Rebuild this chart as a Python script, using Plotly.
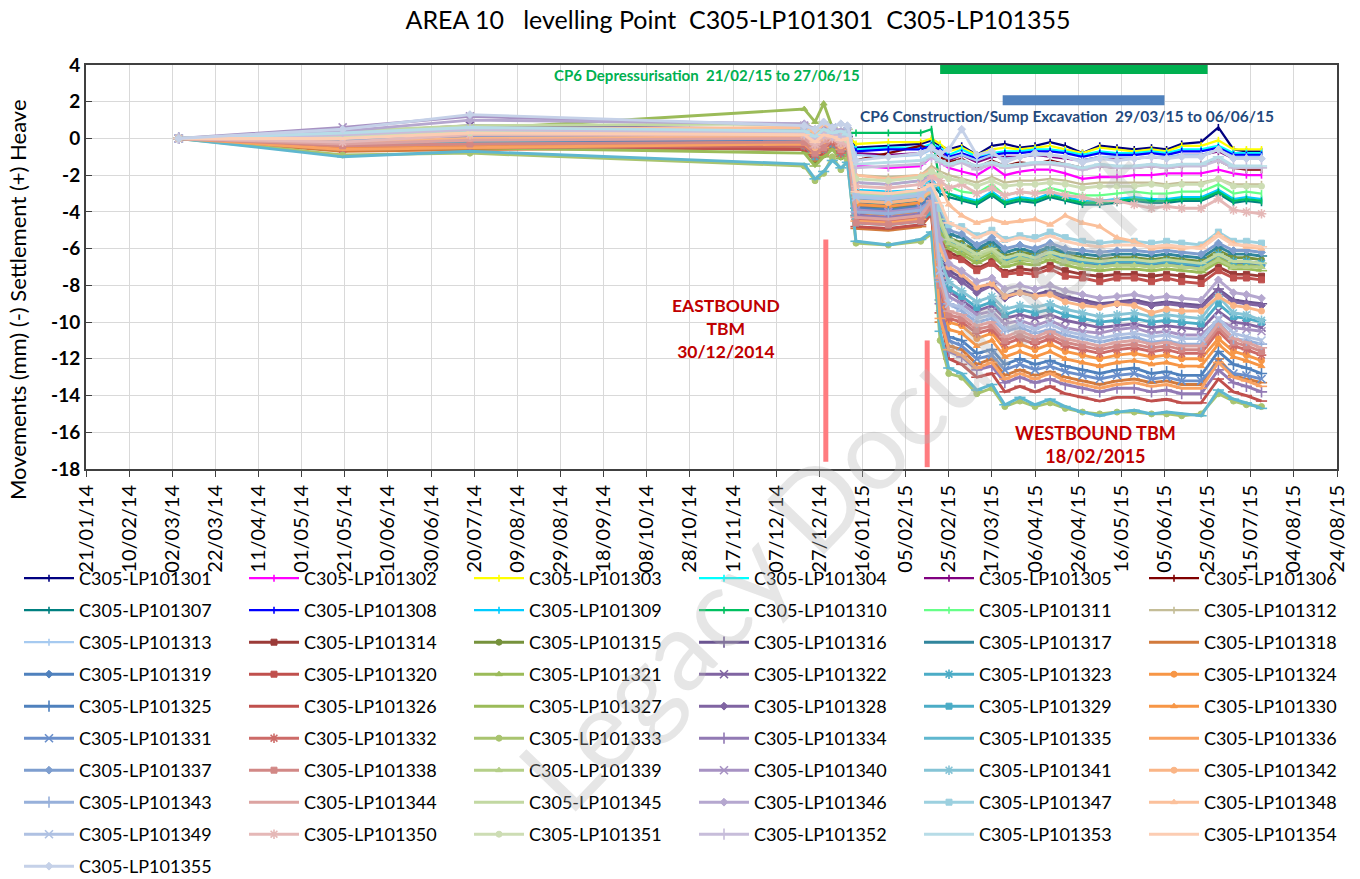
import plotly.graph_objects as go

# ---------------- data ----------------
dates = ["2014-03-05", "2014-05-20", "2014-07-18", "2014-12-20", "2014-12-25", "2014-12-29",
         "2015-01-02", "2015-01-06", "2015-01-09", "2015-01-13", "2015-01-28", "2015-02-12",
         "2015-02-17", "2015-02-21", "2015-02-25", "2015-03-03", "2015-03-10", "2015-03-17",
         "2015-03-23", "2015-03-30", "2015-04-06", "2015-04-13", "2015-04-20", "2015-04-28",
         "2015-05-06", "2015-05-14", "2015-05-22", "2015-05-30", "2015-06-06", "2015-06-13",
         "2015-06-22", "2015-06-30", "2015-07-07", "2015-07-13", "2015-07-20"]

lp101301 = [0, 0.1, 0.3, 0.5, 0.3, 0.6, 0.4, 0.2, 0.1, -0.5, -0.4, -0.3, -0.1, -0.4, -0.6, -0.4, -0.9, -0.4, -0.3, -0.5, -0.4, -0.2, -0.4, -0.8, -0.4, -0.5, -0.6, -0.5, -0.6, -0.3, -0.2, 0.6, -0.6, -0.7, -0.7]
lp101302 = [0, -0.3, 0.0, 0.2, -0.1, 0.2, 0.0, -0.2, -0.3, -1.5, -1.6, -1.5, -1.0, -1.3, -1.6, -1.8, -2.0, -1.5, -2.0, -1.8, -1.7, -1.7, -1.9, -2.2, -2.1, -2.1, -2.0, -2.0, -1.9, -1.9, -1.9, -1.7, -1.9, -2.0, -2.0]
lp101303 = [0, 0.2, 0.4, 0.6, 0.4, 0.7, 0.5, 0.3, 0.2, -0.3, -0.2, -0.2, 0.0, -0.3, -0.7, -0.5, -0.9, -0.6, -0.5, -0.6, -0.5, -0.4, -0.6, -0.8, -0.5, -0.6, -0.7, -0.6, -0.7, -0.4, -0.4, -0.1, -0.6, -0.6, -0.6]
lp101304 = [0, 0.0, 0.3, 0.4, 0.2, 0.5, 0.3, 0.1, 0.0, -0.6, -0.5, -0.5, -0.3, -0.5, -0.9, -0.6, -1.0, -0.8, -0.7, -0.7, -0.6, -0.6, -0.7, -0.9, -0.7, -0.8, -0.8, -0.7, -0.8, -0.6, -0.6, -0.4, -0.8, -0.8, -0.8]
lp101305 = [0, 0.1, 0.3, 0.5, 0.2, 0.6, 0.4, 0.1, 0.0, -0.8, -0.9, -0.8, -0.5, -0.7, -1.2, -0.9, -1.3, -1.0, -1.0, -1.0, -0.9, -1.0, -1.1, -1.2, -1.0, -1.1, -1.1, -1.0, -1.1, -0.9, -0.9, -0.7, -1.1, -1.1, -1.1]
lp101306 = [0, -0.2, 0.1, 0.3, 0.0, 0.3, 0.2, -0.1, -0.2, -1.2, -0.8, -0.4, -0.6, -1.0, -1.3, -1.1, -1.6, -1.2, -1.5, -1.3, -1.4, -1.2, -1.4, -1.6, -1.5, -1.6, -1.6, -1.5, -1.6, -1.5, -1.4, -1.2, -1.6, -1.7, -1.7]
lp101307 = [0, -0.5, -0.3, -0.1, -0.4, -0.1, -0.1, -0.4, -0.5, -3.0, -3.1, -3.0, -2.4, -3.0, -3.2, -3.4, -3.6, -3.1, -3.6, -3.4, -3.5, -3.2, -3.4, -3.6, -3.6, -3.5, -3.4, -3.5, -3.5, -3.4, -3.4, -3.0, -3.5, -3.4, -3.5]
lp101308 = [0, -0.1, 0.2, 0.3, 0.1, 0.4, 0.2, 0.0, -0.1, -0.7, -0.6, -0.6, -0.4, -0.6, -1.0, -0.8, -1.1, -0.9, -0.8, -0.8, -0.7, -0.7, -0.8, -1.0, -0.8, -0.9, -0.9, -0.8, -0.9, -0.7, -0.7, -0.5, -0.9, -0.9, -0.9]
lp101309 = [0, -0.3, 0.0, 0.1, -0.2, 0.1, 0.0, -0.3, -0.4, -2.8, -2.9, -2.8, -2.2, -2.8, -3.0, -3.2, -3.4, -2.9, -3.4, -3.2, -3.3, -3.0, -3.2, -3.4, -3.4, -3.3, -3.2, -3.3, -3.3, -3.2, -3.2, -2.8, -3.3, -3.2, -3.3]
lp101310 = [0, -0.4, -0.2, 0.0, -0.3, 0.0, 0.0, 0.2, 0.3, 0.3, 0.3, 0.3, 0.5, -2.6, -3.0, -3.3, -3.5, -3.0, -3.5, -3.3, -3.4, -3.1, -3.3, -3.5, -3.5, -3.4, -3.3, -3.4, -3.4, -3.3, -3.3, -2.9, -3.4, -3.3, -3.4]
lp101311 = [0, -0.2, 0.1, 0.2, -0.1, 0.2, 0.1, -0.2, -0.3, -2.4, -2.5, -2.3, -1.8, -2.4, -2.6, -2.9, -3.0, -2.5, -3.1, -2.9, -3.0, -2.7, -2.9, -3.1, -3.1, -3.0, -2.9, -3.0, -3.0, -2.9, -2.9, -2.5, -3.0, -2.9, -3.0]
lp101312 = [0, 0.0, 0.2, 0.4, 0.2, 0.4, 0.3, 0.1, 0.0, -2.0, -2.1, -2.0, -1.5, -1.8, -2.0, -2.2, -2.4, -2.1, -2.4, -2.3, -2.3, -2.2, -2.3, -2.5, -2.4, -2.4, -2.4, -2.4, -2.5, -2.4, -2.4, -2.2, -2.5, -2.5, -2.5]
lp101313 = [0, 0.2, 0.4, 0.5, 0.3, 0.5, 0.4, 0.2, 0.1, -0.9, -1.0, -0.9, -0.6, -0.9, -1.1, -0.9, -1.2, -0.9, -1.1, -1.0, -0.9, -0.9, -1.0, -1.2, -1.0, -1.0, -1.1, -1.0, -1.0, -0.9, -0.9, -0.6, -1.0, -1.0, -1.0]
lp101314 = [0, -0.4, -0.3, -0.5, -1.0, -0.7, -0.3, -0.8, -0.5, -3.0, -3.1, -2.9, -2.6, -5.0, -6.2, -6.5, -7.1, -6.7, -7.3, -7.1, -7.2, -6.9, -7.2, -7.4, -7.5, -7.4, -7.4, -7.5, -7.4, -7.5, -7.6, -7.0, -7.4, -7.4, -7.5]
lp101315 = [0, -0.5, -0.4, -0.6, -1.2, -0.9, -0.5, -1.0, -0.7, -3.7, -3.8, -3.6, -3.2, -4.5, -5.4, -5.7, -6.1, -5.8, -6.4, -6.2, -6.3, -6.0, -6.3, -6.5, -6.6, -6.5, -6.5, -6.6, -6.5, -6.6, -6.7, -6.1, -6.5, -6.5, -6.6]
lp101316 = [0, 0.1, 0.4, 0.3, -0.2, 0.2, 0.3, -0.1, 0.1, -3.8, -3.9, -3.7, -3.3, -6.5, -7.2, -7.6, -8.2, -7.9, -8.6, -8.3, -8.5, -8.3, -8.6, -8.8, -9.0, -8.9, -8.8, -9.0, -8.9, -9.0, -9.1, -8.2, -8.8, -8.9, -9.0]
lp101317 = [0, -0.3, 0.0, -0.2, -0.6, -0.3, -0.1, -0.5, -0.3, -3.5, -3.6, -3.4, -3.0, -4.3, -5.2, -5.4, -6.0, -5.6, -6.2, -6.0, -6.2, -5.9, -6.2, -6.3, -6.4, -6.3, -6.3, -6.4, -6.3, -6.4, -6.5, -5.9, -6.3, -6.3, -6.4]
lp101318 = [0, -0.7, -0.6, -0.5, -1.2, -0.9, -0.4, -1.0, -0.6, -4.9, -5.0, -4.8, -4.1, -10.0, -11.3, -11.5, -12.3, -12.0, -12.9, -12.6, -12.9, -12.7, -13.0, -13.2, -13.4, -13.2, -13.1, -13.3, -13.2, -13.4, -13.4, -12.0, -12.9, -13.1, -13.3]
lp101319 = [0, 0.0, 0.3, 0.2, -0.2, 0.1, 0.3, -0.1, 0.1, -3.6, -3.7, -3.5, -3.1, -4.6, -5.7, -6.0, -6.5, -6.1, -6.7, -6.5, -6.6, -6.3, -6.6, -6.8, -6.9, -6.8, -6.8, -6.9, -6.8, -6.9, -7.0, -6.4, -6.8, -6.8, -6.9]
lp101320 = [0, -0.5, -0.4, -0.3, -0.9, -0.6, -0.2, -0.7, -0.4, -4.4, -4.5, -4.3, -3.8, -5.5, -6.4, -6.6, -7.2, -6.8, -7.4, -7.3, -7.4, -7.1, -7.5, -7.6, -7.8, -7.6, -7.6, -7.8, -7.6, -7.8, -7.9, -7.2, -7.6, -7.6, -7.7]
lp101321 = [0, -0.3, 0.5, 1.6, 0.9, 1.9, 0.6, 0.3, 0.2, -4.0, -4.1, -3.9, -3.5, -5.0, -5.8, -6.1, -6.6, -6.2, -6.8, -6.6, -6.7, -6.4, -6.7, -6.9, -7.0, -6.9, -6.9, -7.0, -6.9, -7.0, -7.1, -6.5, -6.9, -6.9, -7.0]
lp101322 = [0, 0.3, 0.7, 0.5, 0.2, 0.5, 0.4, 0.1, 0.3, -3.6, -3.7, -3.5, -3.1, -7.0, -8.3, -8.8, -9.4, -9.1, -9.8, -9.6, -9.8, -9.6, -9.9, -10.1, -10.3, -10.2, -10.1, -10.3, -10.2, -10.3, -10.4, -9.4, -10.0, -10.1, -10.3]
lp101323 = [0, -0.2, 0.1, 0.0, -0.4, -0.1, 0.1, -0.3, -0.1, -3.9, -4.0, -3.8, -3.3, -4.8, -5.6, -5.9, -6.4, -6.0, -6.6, -6.4, -6.5, -6.2, -6.5, -6.7, -6.8, -6.7, -6.7, -6.8, -6.7, -6.8, -6.9, -6.3, -6.7, -6.7, -6.8]
lp101324 = [0, -0.3, -0.2, 0.0, -0.5, -0.2, 0.3, -0.3, 0.0, -3.6, -3.7, -3.5, -2.8, -8.0, -10.0, -10.2, -10.9, -10.6, -11.5, -11.2, -11.5, -11.2, -11.6, -11.8, -12.0, -11.8, -11.7, -11.9, -11.8, -12.0, -12.0, -10.9, -11.6, -11.8, -12.1]
lp101325 = [0, -0.4, -0.2, -0.1, -0.6, -0.3, 0.2, -0.4, 0.0, -3.8, -3.9, -3.7, -3.0, -8.8, -10.8, -11.0, -11.7, -11.5, -12.3, -12.0, -12.3, -12.1, -12.4, -12.6, -12.8, -12.6, -12.5, -12.8, -12.7, -12.9, -12.9, -11.6, -12.3, -12.5, -12.8]
lp101326 = [0, -0.5, -0.4, -0.6, -1.0, -0.8, -0.3, -0.9, -0.5, -4.8, -4.9, -4.7, -4.1, -9.5, -12.0, -12.3, -13.0, -12.8, -13.8, -13.5, -13.8, -13.5, -13.9, -14.1, -14.3, -14.1, -14.1, -14.3, -14.2, -14.4, -14.4, -13.1, -13.8, -14.0, -14.3]
lp101327 = [0, -0.6, -0.5, -0.8, -1.5, -1.0, -0.6, -1.1, -0.8, -4.2, -4.3, -4.1, -3.7, -5.2, -6.0, -6.3, -6.8, -6.4, -7.0, -6.8, -6.9, -6.6, -6.9, -7.1, -7.2, -7.1, -7.1, -7.2, -7.1, -7.2, -7.3, -6.7, -7.1, -7.1, -7.2]
lp101328 = [0, -0.1, 0.2, 0.1, -0.4, 0.0, 0.2, -0.3, -0.1, -4.1, -4.2, -4.0, -3.5, -6.8, -7.4, -7.8, -8.4, -8.0, -8.7, -8.4, -8.6, -8.4, -8.7, -8.9, -9.1, -9.0, -8.9, -9.1, -9.0, -9.1, -9.2, -8.3, -8.9, -9.0, -9.1]
lp101329 = [0, -0.4, -0.2, -0.4, -1.0, -0.6, -0.3, -0.8, -0.5, -4.6, -4.7, -4.5, -4.0, -7.5, -8.2, -8.6, -9.2, -8.9, -9.6, -9.3, -9.5, -9.3, -9.6, -9.8, -10.0, -9.9, -9.8, -10.0, -9.9, -10.0, -10.1, -9.0, -9.7, -9.8, -10.0]
lp101330 = [0, -0.5, -0.4, -0.2, -0.7, -0.4, 0.1, -0.5, -0.2, -4.0, -4.2, -4.0, -3.3, -8.5, -10.4, -10.6, -11.3, -11.0, -11.9, -11.6, -11.9, -11.6, -12.0, -12.2, -12.4, -12.2, -12.1, -12.3, -12.2, -12.4, -12.4, -11.2, -11.9, -12.1, -12.4]
lp101331 = [0, -0.2, 0.1, 0.0, -0.4, 0.0, 0.3, -0.3, 0.1, -4.0, -4.1, -3.9, -3.2, -9.2, -11.0, -11.3, -12.0, -11.8, -12.6, -12.3, -12.6, -12.4, -12.7, -12.9, -13.1, -12.9, -12.8, -13.1, -13.0, -13.2, -13.2, -12.2, -12.8, -12.9, -13.1]
lp101332 = [0, -0.6, -0.5, -0.4, -0.9, -0.6, -0.2, -0.8, -0.4, -4.4, -4.5, -4.3, -3.5, -8.2, -9.8, -10.0, -10.6, -10.4, -11.2, -10.9, -11.2, -10.9, -11.3, -11.5, -11.7, -11.5, -11.4, -11.6, -11.5, -11.7, -11.7, -10.5, -11.3, -11.5, -11.8]
lp101333 = [0, -0.9, -0.8, -1.5, -2.3, -1.9, -1.0, -1.7, -1.2, -5.7, -5.8, -5.6, -5.2, -11.0, -12.8, -13.0, -13.9, -13.6, -14.6, -14.3, -14.6, -14.4, -14.7, -14.9, -15.0, -14.9, -14.9, -15.0, -15.0, -15.1, -15.0, -13.9, -14.3, -14.5, -14.6]
lp101334 = [0, -0.3, 0.3, 0.2, -0.3, 0.2, 0.4, -0.2, 0.0, -4.2, -4.3, -4.1, -3.5, -9.0, -11.6, -11.9, -12.6, -12.4, -13.3, -13.0, -13.3, -13.1, -13.4, -13.6, -13.8, -13.6, -13.6, -13.8, -13.7, -13.9, -13.9, -12.6, -13.3, -13.5, -13.8]
lp101335 = [0, -1.0, -0.7, -1.4, -2.2, -1.8, -1.2, -1.6, -1.3, -5.6, -5.8, -5.5, -5.1, -10.5, -12.5, -12.8, -13.7, -13.4, -14.5, -14.1, -14.5, -14.2, -14.6, -14.9, -15.1, -14.9, -14.8, -15.0, -14.9, -15.0, -15.1, -13.7, -14.2, -14.4, -14.7]
lp101336 = [0, -0.6, -0.5, -0.3, -0.8, -0.5, 0.0, -0.6, -0.3, -4.5, -4.6, -4.4, -3.5, -9.8, -11.5, -11.8, -12.5, -12.2, -13.1, -12.8, -13.1, -12.8, -13.2, -13.4, -13.6, -13.4, -13.3, -13.5, -13.4, -13.6, -13.6, -12.2, -13.0, -13.2, -13.5]
lp101337 = [0, -0.1, 0.2, 0.2, -0.3, 0.0, 0.2, -0.2, 0.0, -3.3, -3.4, -3.2, -2.8, -4.0, -5.0, -5.2, -5.8, -5.4, -6.0, -5.8, -6.0, -5.7, -6.0, -6.1, -6.2, -6.1, -6.1, -6.2, -6.1, -6.2, -6.3, -5.7, -6.1, -6.1, -6.2]
lp101338 = [0, -0.4, -0.3, -0.2, -0.8, -0.5, 0.0, -0.6, -0.3, -4.6, -4.7, -4.5, -3.7, -8.0, -9.6, -9.8, -10.4, -10.2, -11.0, -10.7, -11.0, -10.7, -11.1, -11.3, -11.5, -11.3, -11.2, -11.4, -11.3, -11.5, -11.5, -10.3, -11.1, -11.3, -11.6]
lp101339 = [0, 0.2, 0.4, 0.5, 0.1, 0.6, 0.3, 0.1, 0.2, -3.4, -3.5, -3.3, -2.9, -4.6, -5.7, -6.0, -6.5, -6.1, -6.8, -6.5, -6.7, -6.4, -6.7, -6.9, -7.0, -6.9, -6.9, -7.0, -6.9, -7.0, -7.1, -6.6, -7.0, -7.0, -7.0]
lp101340 = [0, 0.6, 1.2, 0.7, 0.4, 0.7, 0.5, 0.3, 0.4, -3.9, -4.0, -3.8, -3.4, -7.5, -8.6, -9.0, -9.6, -9.4, -10.1, -9.9, -10.2, -9.9, -10.3, -10.5, -10.6, -10.4, -10.3, -10.6, -10.5, -10.7, -10.7, -9.9, -10.3, -10.4, -10.5]
lp101341 = [0, 0.2, 0.4, 0.3, -0.1, 0.3, 0.2, 0.0, 0.1, -3.2, -3.3, -3.1, -2.7, -6.6, -7.8, -8.3, -8.9, -8.6, -9.3, -9.1, -9.2, -9.0, -9.3, -9.5, -9.7, -9.6, -9.5, -9.7, -9.6, -9.7, -9.8, -8.6, -9.5, -9.6, -9.9]
lp101342 = [0, -0.2, 0.0, 0.1, -0.5, -0.1, 0.1, -0.4, -0.1, -3.4, -3.5, -3.3, -2.8, -6.0, -7.0, -7.4, -8.1, -7.9, -8.6, -8.4, -8.6, -8.5, -8.9, -9.1, -9.2, -9.0, -9.1, -9.5, -9.3, -9.4, -9.4, -8.6, -9.1, -9.2, -9.4]
lp101343 = [0, 0.2, 0.5, 0.4, -0.1, 0.3, 0.4, 0.0, 0.2, -4.0, -4.1, -3.9, -3.4, -7.8, -9.0, -9.4, -10.0, -9.8, -10.5, -10.3, -10.6, -10.4, -10.7, -10.9, -11.1, -10.9, -10.8, -11.1, -11.0, -11.2, -11.2, -10.0, -10.9, -11.0, -11.2]
lp101344 = [0, -0.3, -0.1, 0.0, -0.5, -0.2, 0.2, -0.4, -0.1, -4.3, -4.4, -4.2, -3.4, -7.6, -9.4, -9.6, -10.2, -10.0, -10.8, -10.5, -10.8, -10.5, -10.9, -11.1, -11.3, -11.1, -11.0, -11.2, -11.1, -11.3, -11.3, -10.1, -10.9, -11.1, -11.4]
lp101345 = [0, 0.4, 0.7, 0.8, 0.5, 0.9, 0.6, 0.4, 0.5, -3.0, -3.1, -2.9, -2.6, -4.4, -5.5, -5.8, -6.3, -6.0, -6.5, -6.3, -6.5, -6.2, -6.4, -6.6, -6.7, -6.6, -6.6, -6.7, -6.6, -6.7, -6.8, -6.3, -6.7, -6.7, -6.8]
lp101346 = [0, 0.4, 1.0, 0.8, 0.5, 0.8, 0.6, 0.4, 0.5, -2.4, -2.5, -2.3, -2.0, -5.5, -6.8, -7.2, -7.8, -7.6, -8.2, -8.0, -8.2, -8.0, -8.3, -8.5, -8.7, -8.6, -8.5, -8.7, -8.6, -8.7, -8.8, -7.7, -8.4, -8.5, -8.7]
lp101347 = [0, 0.1, 0.4, 0.3, 0.0, 0.3, 0.2, 0.0, 0.1, -3.1, -3.2, -3.0, -2.7, -3.8, -4.7, -4.8, -5.3, -5.0, -5.5, -5.3, -5.4, -5.1, -5.4, -5.6, -5.7, -5.6, -5.6, -5.7, -5.6, -5.7, -5.8, -5.1, -5.6, -5.6, -5.7]
lp101348 = [0, 0.2, 0.5, 0.6, 0.3, 0.8, 0.5, 0.2, 0.4, -2.0, -2.2, -2.0, -1.7, -2.5, -3.6, -4.2, -4.6, -4.4, -4.6, -4.5, -4.4, -4.7, -4.2, -4.6, -4.8, -5.4, -5.6, -6.0, -5.9, -6.0, -5.9, -5.2, -5.7, -5.9, -6.0]
lp101349 = [0, 0.3, 0.5, 0.4, 0.0, 0.3, 0.6, 0.1, 0.4, -3.2, -3.3, -3.1, -2.6, -7.2, -9.0, -9.2, -9.8, -9.6, -10.4, -10.1, -10.4, -10.1, -10.5, -10.7, -10.9, -10.7, -10.6, -10.8, -10.7, -10.9, -10.9, -9.8, -10.6, -10.8, -11.0]
lp101350 = [0, -0.2, 0.2, 0.2, -0.3, 0.1, 0.0, -0.2, -0.3, -2.6, -2.7, -2.5, -2.1, -2.3, -2.7, -2.5, -3.0, -2.7, -3.1, -2.9, -3.0, -2.9, -3.1, -3.2, -3.4, -3.4, -3.6, -3.8, -3.7, -3.8, -3.8, -3.3, -3.9, -4.0, -4.1]
lp101351 = [0, 0.1, 0.3, 0.3, 0.0, 0.3, 0.2, 0.0, -0.1, -2.2, -2.3, -2.1, -1.8, -2.0, -2.2, -2.3, -2.6, -2.3, -2.6, -2.5, -2.5, -2.4, -2.5, -2.7, -2.6, -2.6, -2.6, -2.5, -2.6, -2.5, -2.5, -2.2, -2.6, -2.6, -2.6]
lp101352 = [0, 0.2, 0.5, 0.3, 0.0, 0.3, 0.2, 0.1, 0.0, -1.6, -1.5, -1.4, -1.0, -1.3, -1.5, -1.3, -1.7, -1.4, -1.6, -1.5, -1.4, -1.4, -1.5, -1.7, -1.5, -1.6, -1.6, -1.5, -1.6, -1.5, -1.5, -1.2, -1.6, -1.6, -1.6]
lp101353 = [0, 0.3, 0.6, 0.4, 0.1, 0.5, 0.3, 0.4, 0.2, -1.4, -1.3, -1.2, -0.9, -1.2, -1.4, -1.2, -1.5, -1.3, -1.5, -1.4, -1.3, -1.3, -1.4, -1.6, -1.4, -1.5, -1.5, -1.4, -1.5, -1.4, -1.4, -1.0, -1.5, -1.5, -1.5]
lp101354 = [0, 0.0, 0.3, 0.2, -0.2, 0.2, 0.1, -0.1, 0.0, -2.9, -3.0, -2.8, -2.5, -3.5, -4.6, -4.9, -5.4, -5.1, -5.6, -5.4, -5.6, -5.3, -5.6, -5.8, -5.9, -5.8, -5.8, -5.9, -5.8, -5.9, -6.0, -5.3, -5.8, -5.8, -5.9]
lp101355 = [0, 0.5, 1.3, 0.7, 0.5, 0.9, 0.6, 0.8, 0.7, -1.2, -1.0, -0.8, -0.5, -0.8, -0.6, 0.5, -0.9, -0.7, -1.3, -1.0, -0.8, -0.9, -1.0, -1.3, -1.1, -1.2, -1.1, -1.0, -1.1, -1.0, -1.0, -0.6, -1.1, -1.1, -1.1]

series = [lp101301, lp101302, lp101303, lp101304, lp101305, lp101306, lp101307, lp101308,
          lp101309, lp101310, lp101311, lp101312, lp101313, lp101314, lp101315, lp101316,
          lp101317, lp101318, lp101319, lp101320, lp101321, lp101322, lp101323, lp101324,
          lp101325, lp101326, lp101327, lp101328, lp101329, lp101330, lp101331, lp101332,
          lp101333, lp101334, lp101335, lp101336, lp101337, lp101338, lp101339, lp101340,
          lp101341, lp101342, lp101343, lp101344, lp101345, lp101346, lp101347, lp101348,
          lp101349, lp101350, lp101351, lp101352, lp101353, lp101354, lp101355]
point_ids = list(range(101301, 101356))
names = ["C305-LP%d" % p for p in point_ids]

y_tick_vals = [4, 2, 0, -2, -4, -6, -8, -10, -12, -14, -16, -18]
y_tick_text = ["4", "2", "0", "-2", "-4", "-6", "-8", "-10", "-12", "-14", "-16", "-18"]

# event markers
depress_dates = ["2015-02-21", "2015-06-25"]
depress_level = [3.75, 3.75]
sump_dates = ["2015-03-22", "2015-06-05"]
sump_level = [2.08, 2.08]
eastbound_dates = ["2014-12-30", "2014-12-30"]
eastbound_level = [-5.5, -17.6]
westbound_dates = ["2015-02-15", "2015-02-15"]
westbound_level = [-11.0, -17.9]

# ---------------- styles ----------------
colors = ["#000080", "#FF00FF", "#FFFF00", "#00FFFF", "#800080", "#800000", "#008080", "#0000FF",
          "#00CCFF", "#00C060", "#66FF88", "#C4BD97", "#A6CAF0", "#9B3B38", "#76923C", "#6B5591",
          "#31859C", "#D27A3C", "#4F81BD", "#C0504D", "#9BBB59", "#8064A2", "#4BACC6", "#F79646",
          "#4F81BD", "#C0504D", "#9BBB59", "#8064A2", "#4BACC6", "#F79646", "#6A8FCB", "#CD6B68",
          "#A9C46F", "#927AB4", "#5FB7CF", "#F9A262", "#7E9ECF", "#D28886", "#B5CF88", "#A792C3",
          "#85C4D6", "#FAB586", "#97B0DA", "#DCA3A1", "#C2D8A2", "#B5A7CF", "#9CD0DF", "#FBC09B",
          "#AFC1E2", "#E5B8B7", "#CDDDB4", "#C7BDDA", "#B7DCE7", "#FCCDB3", "#C5D1E8"]
cycle = ["square", "circle", "cross-thin-open", "line-ew-open", "line-ew-open", "diamond",
         "square", "triangle-up", "x-thin-open", "asterisk-open", "circle", "cross-thin-open",
         "line-ew-open", "line-ew-open", "diamond"]
symbols = ["line-ns-open"] * 13 + [cycle[i] if i < 15 else cycle[(i - 15) % 9 + 6] for i in range(42)]
FONT = "Lato"


def px_x(p):
    return (p - 86) / 1251.0


def px_y(p):
    return (469 - p) / 404.0


fig = go.Figure()
for i, (nm, vals, col, sym) in enumerate(zip(names, series, colors, symbols)):
    leg = "legend" if i % 6 == 0 else "legend%d" % (i % 6 + 1)
    open_sym = sym.endswith("-open")
    size = 5 if i < 13 else (8 if open_sym else 6)
    fig.add_trace(go.Scatter(
        x=dates, y=vals, name=nm, mode="lines+markers",
        legend=leg, legendgroup=nm,
        line=dict(color=col, width=2.3 if i < 13 else 2.9),
        marker=dict(symbol=sym, size=size, color=col,
                    line=dict(color=col, width=1.6 if open_sym else 1)),
        hoverinfo="x+y+name"))

bar_specs = [(depress_dates, depress_level, "#00B050", 9),
             (sump_dates, sump_level, "#4F81BD", 10),
             (eastbound_dates, eastbound_level, "#FF7C80", 5),
             (westbound_dates, westbound_level, "#FF7C80", 5)]
for xs, ys, col, w in bar_specs:
    fig.add_trace(go.Scatter(x=xs, y=ys, mode="lines", showlegend=False,
                             line=dict(color=col, width=w), hoverinfo="skip"))

legend_common = dict(xanchor="left", yanchor="top", orientation="v",
                     bgcolor="rgba(0,0,0,0)", borderwidth=0,
                     font=dict(family=FONT, size=18, color="#000000"),
                     traceorder="grouped", tracegroupgap=5.6, itemwidth=50)
layout_legends = {}
for k in range(6):
    key = "legend" if k == 0 else "legend%d" % (k + 1)
    layout_legends[key] = dict(legend_common, x=px_x(19 + 225 * k), y=px_y(560))

annotations = [
    dict(text="<b>CP6 Depressurisation  21/02/15 to 27/06/15</b>", x=px_x(707), y=px_y(75),
         font=dict(family=FONT, size=15, color="#00B050")),
    dict(text="<b>CP6 Construction/Sump Excavation  29/03/15 to 06/06/15</b>", x=px_x(1067), y=px_y(116),
         font=dict(family=FONT, size=15.5, color="#1F497D")),
    dict(text="<b>EASTBOUND<br>TBM<br>30/12/2014</b>", x=px_x(726), y=px_y(328),
         font=dict(family=FONT, size=17.5, color="#C00000")),
    dict(text="<b>WESTBOUND TBM<br>18/02/2015</b>", x=px_x(1095), y=px_y(444),
         font=dict(family=FONT, size=18, color="#C00000")),
    dict(text="Movements (mm) (-) Settlement (+) Heave", x=px_x(17), y=px_y(300), textangle=-90,
         font=dict(family=FONT, size=22, color="#000000")),
    dict(text="Legacy Document", x=px_x(838), y=px_y(478), textangle=-46,
         font=dict(family=FONT, size=110, color="rgba(180,180,180,0.33)")),
]
for a in annotations:
    a.update(xref="paper", yref="paper", showarrow=False, xanchor="center", yanchor="middle")

fig.update_layout(
    width=1360, height=879,
    margin=dict(l=86, r=23, t=65, b=410, autoexpand=False),
    paper_bgcolor="white", plot_bgcolor="white",
    title=dict(text="AREA 10   levelling Point  C305-LP101301  C305-LP101355",
               x=738 / 1360, y=1 - 20 / 879, xref="container", yref="container",
               xanchor="center", yanchor="middle",
               font=dict(family=FONT, size=25, color="#000000")),
    xaxis=dict(type="date", range=["2014-01-21", "2015-08-24"], tick0="2014-01-21",
               dtick=20 * 86400000, tickformat="%d/%m/%y", tickangle=-90,
               tickfont=dict(family=FONT, size=20, color="#000000"),
               showgrid=True, gridcolor="#D9D9D9", gridwidth=1,
               showline=True, mirror=True, linecolor="#404040", linewidth=2,
               ticks="outside", ticklen=6, tickcolor="#404040", zeroline=False),
    yaxis=dict(range=[-18, 4], tickmode="array", tickvals=y_tick_vals, ticktext=y_tick_text,
               tickfont=dict(family=FONT, size=19, color="#000000", weight="bold"),
               showgrid=True, gridcolor="#D9D9D9", gridwidth=1,
               showline=True, mirror=True, linecolor="#404040", linewidth=2,
               ticks="inside", ticklen=6, tickcolor="#404040", zeroline=False),
    annotations=annotations,
    **layout_legends,
)

fig.write_html("out.html", config={"displayModeBar": False},
               post_script="document.body.style.margin='0px';")
